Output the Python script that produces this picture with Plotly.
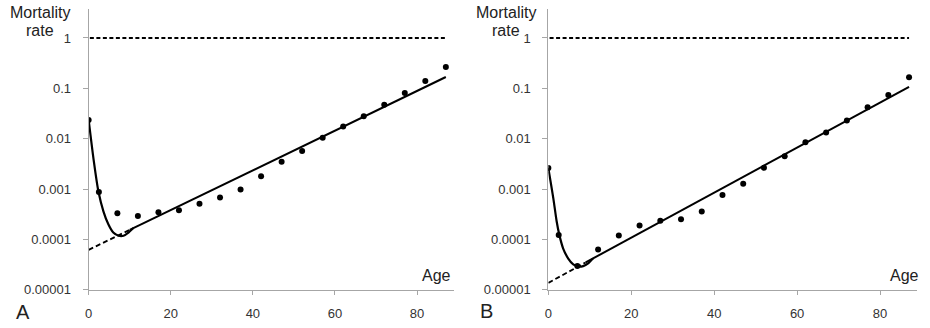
import plotly.graph_objects as go

# ---- data ----
ages = [0, 2.5, 7, 12, 17, 22, 27, 32, 37, 42, 47, 52, 57, 62, 67, 72, 77, 82, 87]
rate_A = [0.0235, 0.00087, 0.00033, 0.00029, 0.000345, 0.00038, 0.00051, 0.00068, 0.00098,
          0.0018, 0.0035, 0.0057, 0.0104, 0.0175, 0.028, 0.047, 0.081, 0.14, 0.266]
rate_B = [0.00261, 0.000122, 0.0000296, 0.000063, 0.00012, 0.000188, 0.000234, 0.00025, 0.00036,
          0.00076, 0.00128, 0.00265, 0.0045, 0.0085, 0.0132, 0.0229, 0.042, 0.074, 0.166]

# fitted curve (young ages)
fitA_age = [0, 1.2, 2.4, 3.6, 4.8, 6.0, 7.3, 8.5, 9.7, 10.9]
fitA_val = [0.0239, 0.0039, 0.00088, 0.00036, 0.000199, 0.000137, 0.000118, 0.000118, 0.000137, 0.000168]
fitB_age = [0, 1.2, 2.0, 2.65, 3.6, 4.8, 6.0, 7.2, 8.4, 9.6, 10.8]
fitB_val = [0.00261, 0.000655, 0.00023, 0.000123, 0.000065, 0.0000417, 0.0000319, 0.0000288,
            0.0000295, 0.0000333, 0.000042]

# Gompertz line: dashed and solid parts
gompA_dash_age = [0, 10]
gompA_dash_val = [0.000062, 0.0001545]
gompA_solid_age = [10, 87]
gompA_solid_val = [0.0001545, 0.168]
gompB_dash_age = [0, 9]
gompB_dash_val = [0.0000137, 0.0000349]
gompB_solid_age = [9, 87]
gompB_solid_val = [0.0000349, 0.107]

one_age = [0.3, 87]
one_val = [1, 1]

y_tickvals = [0.00001, 0.0001, 0.001, 0.01, 0.1, 1]
y_ticktext = ["0.00001", "0.0001", "0.001", "0.01", "0.1", "1"]
x_tickvals = [0, 20, 40, 60, 80]

W, H = 930, 328
fig = go.Figure()

panels = [
    ("x", "y", rate_A, fitA_age, fitA_val, gompA_dash_age, gompA_dash_val, gompA_solid_age, gompA_solid_val),
    ("x2", "y2", rate_B, fitB_age, fitB_val, gompB_dash_age, gompB_dash_val, gompB_solid_age, gompB_solid_val),
]
for xa, ya, rate, fa, fv, gda, gdv, gsa, gsv in panels:
    fig.add_trace(go.Scatter(x=one_age, y=one_val, mode="lines", xaxis=xa, yaxis=ya,
                             line=dict(color="black", width=2, dash="4px,2.5px"), showlegend=False))
    fig.add_trace(go.Scatter(x=gda, y=gdv, mode="lines", xaxis=xa, yaxis=ya,
                             line=dict(color="black", width=1.8, dash="5px,3px"), showlegend=False))
    fig.add_trace(go.Scatter(x=gsa, y=gsv, mode="lines", xaxis=xa, yaxis=ya,
                             line=dict(color="black", width=2), showlegend=False))
    fig.add_trace(go.Scatter(x=fa, y=fv, mode="lines", xaxis=xa, yaxis=ya,
                             line=dict(color="black", width=2.2, shape="spline", smoothing=0.8),
                             showlegend=False))
    fig.add_trace(go.Scatter(x=ages, y=rate, mode="markers", xaxis=xa, yaxis=ya,
                             marker=dict(color="black", size=6), showlegend=False))

ydom = [(H - 297) / H, (H - 9) / H]
axis_common = dict(showgrid=False, zeroline=False, showline=True, linecolor="#a6a6a6", linewidth=1,
                   ticks="outside", tickcolor="#a6a6a6", tickwidth=1,
                   tickfont=dict(family="Liberation Sans, Arial", size=13, color="#333333"))
yaxis_common = dict(axis_common, type="log", range=[-5, 0.58], tickvals=y_tickvals,
                    ticktext=y_ticktext, ticklen=5, domain=ydom, ticklabelstandoff=9)
xaxis_common = dict(axis_common, range=[0, 89], tickvals=x_tickvals, ticklen=4, ticklabelstandoff=8)

fig.update_layout(
    width=W, height=H, margin=dict(l=0, r=0, t=0, b=0),
    plot_bgcolor="white", paper_bgcolor="white",
    xaxis=dict(xaxis_common, domain=[85 / W, 452 / W], anchor="y"),
    yaxis=dict(yaxis_common, anchor="x"),
    xaxis2=dict(xaxis_common, domain=[546.7 / W, 917.3 / W], anchor="y2"),
    yaxis2=dict(yaxis_common, anchor="x2"),
)

tf = dict(family="Liberation Sans, Arial", size=16, color="#222222")
ann = []
for cx, ax_right, letter, lx, ly in [(36, 451, "A", 19, 320), (504, 921, "B", 485, 319)]:
    ann.append(dict(text="Mortality", x=cx / W, y=1 - 12.7 / H, xref="paper", yref="paper",
                    xanchor="center", yanchor="middle", showarrow=False, font=tf))
    ann.append(dict(text="rate", x=cx / W, y=1 - 31.7 / H, xref="paper", yref="paper",
                    xanchor="center", yanchor="middle", showarrow=False, font=tf))
    ann.append(dict(text="Age", x=ax_right / W, y=1 - 282.3 / H, xref="paper", yref="paper",
                    xanchor="right", yanchor="middle", showarrow=False, font=tf))
    ann.append(dict(text=letter, x=lx / W, y=1 - ly / H, xref="paper", yref="paper",
                    xanchor="center", yanchor="middle", showarrow=False,
                    font=dict(family="Liberation Sans, Arial", size=20, color="#222222")))
fig.update_layout(annotations=ann)

fig.write_html("out.html")
